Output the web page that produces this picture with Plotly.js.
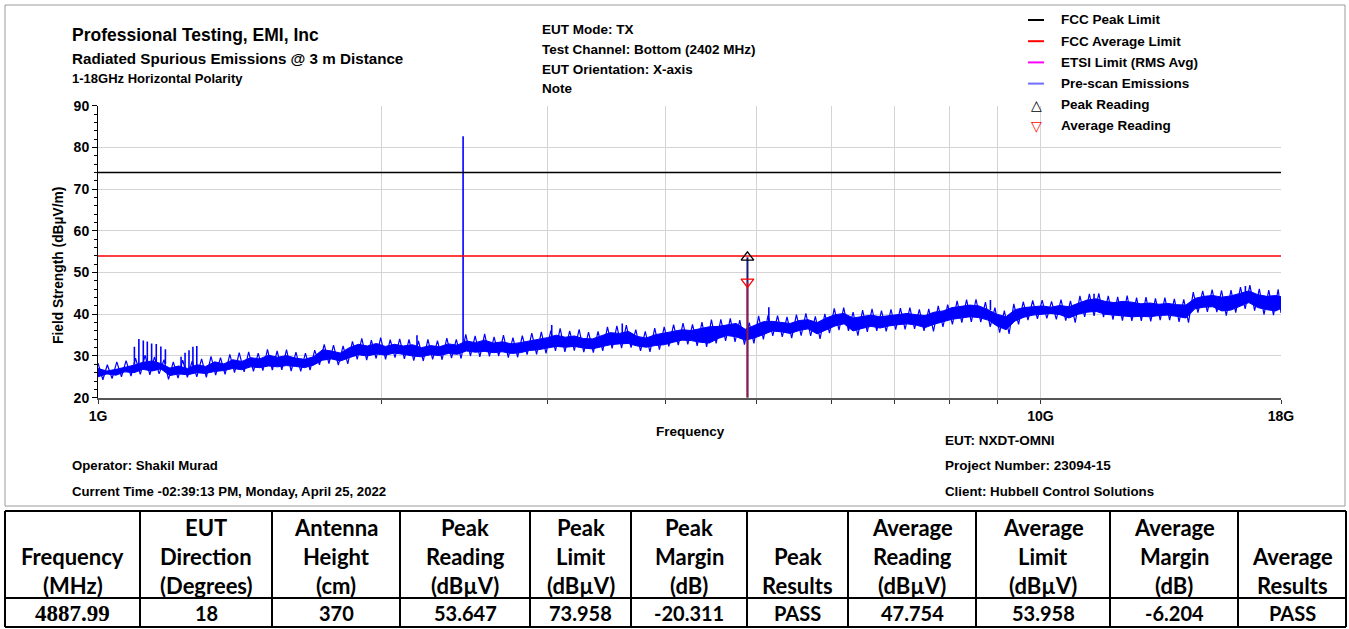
<!DOCTYPE html>
<html>
<head>
<meta charset="utf-8">
<script src="https://cdn.plot.ly/plotly-3.0.1.min.js"></script>
<style>
  html, body { margin: 0; padding: 0; background: #ffffff; }
  #chart { width: 1349px; height: 629px; }
</style>
</head>
<body>
<div id="chart"></div>
<script>
// ---- Pre-scan sweep: solid core of the emission trace (MHz, dBuV/m) ----
const scanMHz = [1000,1022,1045,1068,1092,1116,1141,1166,1192,1218,1245,1273,1301,1330,1360,1390,1421,1452,1484,1517,
  1551,1585,1620,1656,1693,1731,1769,1808,1848,1889,1931,1974,2018,2063,2109,2156,2204,2253,2303,2354,
  2406,2460,2515,2571,2628,2686,2746,2807,2869,2933,2998,3064,3132,3202,3273,3346,3420,3496,3574,3653,
  3734,3817,3902,3989,4077,4168,4260,4355,4452,4551,4652,4755,4861,4969,5079,5192,5307,5425,5546,5669,
  5795,5924,6055,6190,6327,6468,6612,6759,6909,7062,7219,7380,7544,7711,7883,8058,8237,8420,8607,8798,
  8994,9193,9398,9606,9820,10038,10261,10489,10722,10960,11204,11453,11707,11967,12233,12505,12783,13067,13357,13654,
  13957,14267,14584,14908,15239,15578,15924,16278,16640,17009,17387,17774,18000];
const scanHigh = [27.0,26.4,26.8,27.3,27.8,28.5,28.8,28.2,27.1,27.6,27.0,27.9,27.5,28.6,28.1,29.1,28.7,29.6,29.3,30.2,
  29.7,30.1,29.5,29.2,29.8,31.5,31.2,30.7,32.0,32.8,32.4,33.0,32.3,32.8,32.4,32.7,32.0,32.5,32.2,32.9,
  32.6,33.6,33.2,33.8,33.1,33.4,32.9,33.2,33.6,34.0,34.4,35.0,34.5,34.8,34.2,34.1,34.8,35.6,35.4,35.9,
  34.7,34.3,35.1,35.5,35.8,36.3,36.1,36.6,37.0,37.1,37.5,37.8,36.4,37.4,38.2,38.3,38.0,37.8,38.5,38.7,
  38.0,39.1,39.9,40.2,39.1,39.5,39.8,39.4,39.7,40.0,40.2,39.9,39.7,40.5,40.8,41.6,41.9,42.2,42.0,41.1,
  40.0,39.4,41.1,41.6,41.8,42.0,41.7,42.1,41.8,42.6,43.4,43.7,43.1,42.8,43.1,42.9,42.5,42.7,42.4,42.6,
  42.3,42.2,43.8,44.3,44.5,44.1,44.4,45.0,45.6,44.7,44.3,44.5,44.2];
const scanLow = [25.0,25.7,25.4,26.2,26.0,26.8,26.4,26.9,25.3,25.7,25.5,26.0,25.8,26.3,26.5,27.0,26.7,27.4,27.2,27.6,
  27.4,27.7,27.5,27.2,27.8,29.0,29.3,28.8,29.6,30.3,30.0,30.5,30.2,30.7,30.4,30.0,29.8,30.3,30.1,30.6,
  30.4,31.2,30.9,31.1,30.8,31.0,30.6,30.8,31.3,31.5,31.9,32.3,32.1,32.3,31.9,31.7,32.2,32.7,32.9,33.0,
  32.4,32.1,32.5,32.7,33.3,33.8,33.7,33.3,33.1,34.2,34.9,34.6,33.8,34.3,35.1,36.0,35.8,35.4,36.1,36.5,
  35.3,36.2,37.2,37.7,36.0,36.6,37.1,36.7,37.2,37.5,37.7,37.4,36.8,37.6,38.2,38.8,39.1,39.4,39.2,38.6,
  37.2,36.3,38.4,39.3,39.8,40.0,40.2,39.9,39.1,40.0,40.5,40.7,40.0,39.8,39.6,39.4,39.5,39.4,39.7,39.8,
  39.5,39.1,41.3,41.7,41.8,40.8,41.0,41.9,42.8,41.6,41.1,40.8,41.4];

// ---- Pre-scan sweep: alternating crest/trough readings of the noise ----
const noiseMHz = [1000,1012,1023,1035,1047,1059,1071,1084,1096,1109,1122,1135,1148,1161,1175,1188,1202,1216,1230,1244,
  1259,1273,1288,1303,1318,1333,1349,1364,1380,1396,1412,1429,1445,1462,1479,1496,1513,1531,1549,1567,
  1585,1603,1622,1641,1660,1679,1698,1718,1738,1758,1778,1799,1820,1841,1862,1884,1905,1928,1950,1973,
  1995,2019,2042,2066,2090,2114,2138,2163,2188,2214,2239,2265,2292,2318,2345,2372,2400,2428,2456,2484,
  2513,2542,2572,2602,2632,2662,2693,2725,2756,2788,2820,2853,2886,2920,2954,2988,3023,3058,3093,3129,
  3166,3202,3240,3277,3315,3354,3393,3432,3472,3512,3553,3594,3636,3678,3721,3764,3808,3852,3897,3942,
  3988,4034,4081,4128,4176,4225,4274,4323,4374,4424,4476,4528,4580,4634,4687,4742,4797,4852,4909,4966,
  5023,5082,5141,5200,5261,5322,5384,5446,5509,5573,5638,5704,5770,5837,5905,5973,6043,6113,6184,6256,
  6328,6402,6476,6551,6627,6704,6782,6861,6941,7021,7103,7185,7269,7353,7439,7525,7612,7701,7790,7881,
  7972,8065,8158,8253,8349,8446,8544,8643,8743,8845,8948,9051,9156,9263,9370,9479,9589,9700,9813,9927,
  10042,10158,10276,10396,10516,10638,10762,10887,11013,11141,11270,11401,11533,11667,11802,11939,12078,12218,12360,12503,
  12648,12795,12943,13093,13245,13399,13554,13712,13871,14032,14194,14359,14526,14694,14865,15037,15212,15388,15567,15747,
  15930,16115,16302,16491,16682,16876,17071,17269,17470,17672,17877,18000];
const noiseDb = [28.3,24.3,27.9,24.6,28.6,25.0,28.9,25.2,29.5,25.6,30.2,25.5,29.8,25.7,29.1,24.4,28.6,24.7,29.0,24.9,
  28.8,25.0,29.3,24.9,29.9,25.4,29.6,25.6,30.4,26.0,30.8,26.2,31.0,26.3,30.7,26.5,31.6,26.6,31.2,26.7,
  31.5,26.4,30.9,26.3,30.7,26.6,31.4,27.9,32.8,28.2,32.6,27.8,32.4,28.1,33.5,29.2,34.2,29.0,33.8,29.4,
  34.4,29.2,33.9,29.6,34.1,29.3,34.0,28.9,33.6,28.8,34.0,29.2,33.7,29.1,34.3,29.5,34.0,29.4,35.2,30.0,
  34.8,29.8,35.3,29.9,34.6,30.0,35.0,29.6,34.4,29.7,34.9,30.3,35.5,30.4,35.8,30.6,36.1,31.2,36.6,31.0,
  36.0,31.3,36.4,30.9,35.7,30.8,35.9,31.2,37.0,31.8,37.2,31.9,37.4,32.0,36.3,31.2,35.9,31.0,36.7,31.5,
  37.0,32.3,37.5,32.6,37.9,32.8,37.6,32.4,38.1,32.2,38.7,33.0,38.8,33.6,39.0,33.4,38.6,32.7,38.0,33.0,
  39.6,34.0,39.8,34.8,39.7,34.6,39.4,34.3,39.9,34.9,40.2,34.8,39.5,34.1,40.1,35.5,41.4,36.2,41.6,36.0,
  40.5,34.9,41.0,35.8,41.3,36.0,40.9,35.9,41.2,36.3,41.5,36.4,41.6,36.5,41.2,36.0,41.3,35.9,42.0,37.0,
  42.3,37.6,43.2,38.0,43.5,38.2,43.6,38.1,42.9,37.0,41.6,35.6,40.9,35.3,42.5,37.6,43.0,38.6,43.3,38.9,
  43.4,39.0,43.1,38.8,43.5,38.5,43.2,38.0,44.4,39.4,44.9,39.6,45.0,39.3,44.4,38.7,44.2,38.5,44.5,38.4,
  44.0,38.4,44.1,38.3,43.8,38.6,44.0,38.6,43.7,38.2,43.6,38.0,45.3,40.4,45.6,40.6,45.9,40.5,45.7,39.7,
  45.8,40.4,46.5,41.3,47.0,40.9,46.1,39.9,45.8,39.8,46.0,40.3];

// ---- Narrow spikes rising out of the noise floor ----
const spikeMHz  = [1093,1105,1117,1128,1140,1153,1166,1179,1225,1237,1249,1261,1273,2180,2440,3030,3600,5150,8850,11400,16500];
const spikeTop  = [32.2,34.1,33.7,33.5,33.0,32.9,32.3,31.6,29.8,30.8,31.4,32.2,32.4,35.0,82.7,37.4,37.8,41.7,43.4,44.9,46.8];
const spikeBase = [28.0,28.0,28.0,28.0,28.0,28.0,28.0,28.0,27.0,27.0,27.0,27.0,27.0,32.0,33.0,34.0,35.0,38.0,41.0,43.0,45.0];

// ---- Limits (dBuV/m) across the sweep ----
const limitMHz = [1000, 18000];
const fccPeakLimit = 73.958;
const fccAvgLimit = 53.958;

// ---- Final measurement ----
const measFreqMHz = 4887.99;
const eutDirection = 18;
const antennaHeight = 370;
const peakReading = 53.647;
const avgReading = 47.754;
const peakResult = "PASS";
const avgResult = "PASS";

// ---- Axis ticks ----
const xTickMHz = [1000,2000,3000,4000,5000,6000,7000,8000,9000,10000,18000];
const xTickText = ["1G","","","","","","","","","10G","18G"];

// ---- Legend entries ----
const legendLabels = ["FCC Peak Limit","FCC Average Limit","ETSI Limit (RMS Avg)","Pre-scan Emissions","Peak Reading","Average Reading"];
const legendColors = ["#000000","#ff0000","#ff00ff","#7070ff","#000000","#ff0000"];
const legendGlyphs = [null, null, null, null, "\u25B3", "\u25BD"];

// ---- Table ----
const headerLines = [
  ["Frequency","(MHz)"],["EUT","Direction","(Degrees)"],["Antenna","Height","(cm)"],
  ["Peak","Reading","(dB\u00B5V)"],["Peak","Limit","(dB\u00B5V)"],["Peak","Margin","(dB)"],["Peak","Results"],
  ["Average","Reading","(dB\u00B5V)"],["Average","Limit","(dB\u00B5V)"],["Average","Margin","(dB)"],["Average","Results"]];

const W = 1349, H = 629;
const FONT = "Liberation Sans, Arial, sans-serif";
const px = x => x / W;
const py = y => 1 - y / H;

const rowValues = [
  measFreqMHz.toFixed(2), String(eutDirection), String(antennaHeight),
  peakReading.toFixed(3), fccPeakLimit.toFixed(3), (peakReading - fccPeakLimit).toFixed(3), peakResult,
  avgReading.toFixed(3), fccAvgLimit.toFixed(3), (avgReading - fccAvgLimit).toFixed(3), avgResult];

const BLUE = '#0000ff';
const traces = [];
// solid core of the sweep: lower edge, then upper edge filled down to it
traces.push({x: scanMHz, y: scanLow, type: 'scatter', mode: 'lines',
  line: {color: BLUE, width: 1}, hoverinfo: 'skip', showlegend: false});
traces.push({x: scanMHz, y: scanHigh, type: 'scatter', mode: 'lines', fill: 'tonexty',
  fillcolor: BLUE, line: {color: BLUE, width: 1}, hoverinfo: 'skip', showlegend: false});
// crest/trough noise of the sweep
traces.push({x: noiseMHz, y: noiseDb, type: 'scatter', mode: 'lines',
  line: {color: BLUE, width: 1.2}, hoverinfo: 'skip', showlegend: false});
// spikes
const sx = [], sy = [];
spikeMHz.forEach((f, i) => { sx.push(f, f, null); sy.push(spikeBase[i], spikeTop[i], null); });
traces.push({x: sx, y: sy, type: 'scatter', mode: 'lines', line: {color: BLUE, width: 1.6},
  hoverinfo: 'skip', showlegend: false});
// limit lines
traces.push({x: limitMHz, y: limitMHz.map(() => fccPeakLimit), type: 'scatter', mode: 'lines',
  line: {color: '#000000', width: 1.5}, showlegend: false});
traces.push({x: limitMHz, y: limitMHz.map(() => fccAvgLimit), type: 'scatter', mode: 'lines',
  line: {color: '#ff0000', width: 1.5}, showlegend: false});
// measurement stems
traces.push({x: [measFreqMHz, measFreqMHz], y: [20, peakReading], type: 'scatter', mode: 'lines',
  line: {color: '#1a1a80', width: 2}, showlegend: false});
traces.push({x: [measFreqMHz, measFreqMHz], y: [20, avgReading], type: 'scatter', mode: 'lines',
  line: {color: 'rgba(220,30,40,0.6)', width: 2}, showlegend: false});
// reading markers
traces.push({x: [measFreqMHz], y: [peakReading], type: 'scatter', mode: 'markers',
  marker: {symbol: 'triangle-up-open', size: 11, color: '#000000', line: {width: 1.3}}, showlegend: false});
traces.push({x: [measFreqMHz], y: [avgReading], type: 'scatter', mode: 'markers',
  marker: {symbol: 'triangle-down-open', size: 11, color: '#ff0000', line: {width: 1.3}}, showlegend: false});

const ann = [];
function txt(text, x, y, size, opts) {
  ann.push(Object.assign({xref: 'paper', yref: 'paper', x: px(x), y: py(y), text: text, showarrow: false,
    xanchor: 'left', yanchor: 'middle', font: {family: FONT, size: size, color: '#000', weight: 700}}, opts || {}));
}
txt("Professional Testing, EMI, Inc", 70, 35, 17.5);
txt("Radiated Spurious Emissions @ 3 m Distance", 70, 59, 15.2);
txt("1-18GHz Horizontal Polarity", 70, 78, 13);
txt("EUT Mode: TX", 540, 30, 13.5);
txt("Test Channel: Bottom (2402 MHz)", 540, 49, 13.5);
txt("EUT Orientation: X-axis", 540, 69, 13.5);
txt("Note", 540, 89, 13.5);
txt("Frequency", 690, 431, 13.5, {xanchor: 'center'});
txt("EUT: NXDT-OMNI", 943, 440, 13.5);
txt("Project Number: 23094-15", 943, 465, 13.5);
txt("Client: Hubbell Control Solutions", 943, 491, 13.3);
txt("Operator: Shakil Murad", 70, 465, 13.2);
txt("Current Time -02:39:13 PM, Monday, April 25, 2022", 70, 491, 13.2);
txt("Field Strength (dB\u00B5V/m)", 58, 266, 13.8, {xanchor: 'center', textangle: -90});

const shapes = [];
// outer frame of the chart panel
shapes.push({type: 'rect', xref: 'paper', yref: 'paper', x0: px(5), x1: px(1345), y0: py(5), y1: py(506),
  line: {color: '#9a9a9a', width: 1}, fillcolor: 'rgba(0,0,0,0)'});

// legend
const legTop = 20, legStep = 21.2;
legendLabels.forEach((lab, i) => {
  const y = legTop + i * legStep;
  if (legendGlyphs[i]) {
    txt(legendGlyphs[i], 1036, y, 14, {xanchor: 'center', font: {family: 'DejaVu Sans', size: 14, color: legendColors[i]}});
  } else {
    shapes.push({type: 'line', xref: 'paper', yref: 'paper', x0: px(1028), x1: px(1044), y0: py(y), y1: py(y),
      line: {color: legendColors[i], width: 2}});
  }
  txt(lab, 1059, y, 13.5);
});

// results table
const colEdges = [5,140,272,400,530,631,747,848,976,1110,1238,1346];
const tTop = 511, tMid = 598, tBot = 627;
[tTop, tMid, tBot].forEach(y => shapes.push({type: 'line', xref: 'paper', yref: 'paper',
  x0: px(colEdges[0]), x1: px(colEdges[colEdges.length - 1]), y0: py(y), y1: py(y), line: {color: '#000', width: 2}}));
colEdges.forEach(x => shapes.push({type: 'line', xref: 'paper', yref: 'paper',
  x0: px(x), x1: px(x), y0: py(tTop), y1: py(tBot), line: {color: '#000', width: 2}}));
const lineY = [527, 556, 585];
const TFONT = "Lato, Carlito, Calibri, sans-serif";
headerLines.forEach((lines, c) => {
  const cx = (colEdges[c] + colEdges[c + 1]) / 2;
  const offset = 3 - lines.length;
  lines.forEach((s, k) => txt(s, cx, lineY[k + offset], 22,
    {xanchor: 'center', font: {family: TFONT, size: 22, color: '#000', weight: 700}}));
});
rowValues.forEach((v, c) => {
  const cx = (colEdges[c] + colEdges[c + 1]) / 2;
  const serif = c === 0;
  txt(v, cx, 613, serif ? 23 : 20, {xanchor: 'center',
    font: {family: serif ? "Liberation Serif, Times New Roman, serif" : TFONT, size: serif ? 23 : 20, color: '#000', weight: 700}});
});

const layout = {
  width: W, height: H,
  margin: {l: 0, r: 0, t: 0, b: 0},
  paper_bgcolor: '#ffffff', plot_bgcolor: '#ffffff',
  showlegend: false,
  xaxis: {
    type: 'log', domain: [px(98), px(1281)],
    range: [Math.log10(1000), Math.log10(18000)],
    tickmode: 'array', tickvals: xTickMHz, ticktext: xTickText,
    showgrid: true, gridcolor: '#d4d4d4', gridwidth: 1,
    ticks: 'outside', ticklen: 4, tickcolor: '#333', tickwidth: 1,
    showline: true, linecolor: '#555', linewidth: 2,
    tickfont: {family: FONT, size: 14, color: '#000', weight: 700},
    zeroline: false, fixedrange: true
  },
  yaxis: {
    domain: [py(397.7), py(105.7)],
    range: [20, 90], tick0: 20, dtick: 10,
    showgrid: true, gridcolor: '#d4d4d4', gridwidth: 1,
    ticks: 'outside', ticklen: 5, tickcolor: '#000', tickwidth: 1,
    minor: {dtick: 2, ticks: 'outside', ticklen: 3, tickcolor: '#000', showgrid: false},
    showline: true, linecolor: '#000', linewidth: 1,
    tickfont: {family: FONT, size: 14, color: '#000', weight: 700},
    zeroline: false, fixedrange: true
  },
  annotations: ann,
  shapes: shapes
};

Plotly.newPlot('chart', traces, layout, {staticPlot: true, displayModeBar: false});
</script>
</body>
</html>
